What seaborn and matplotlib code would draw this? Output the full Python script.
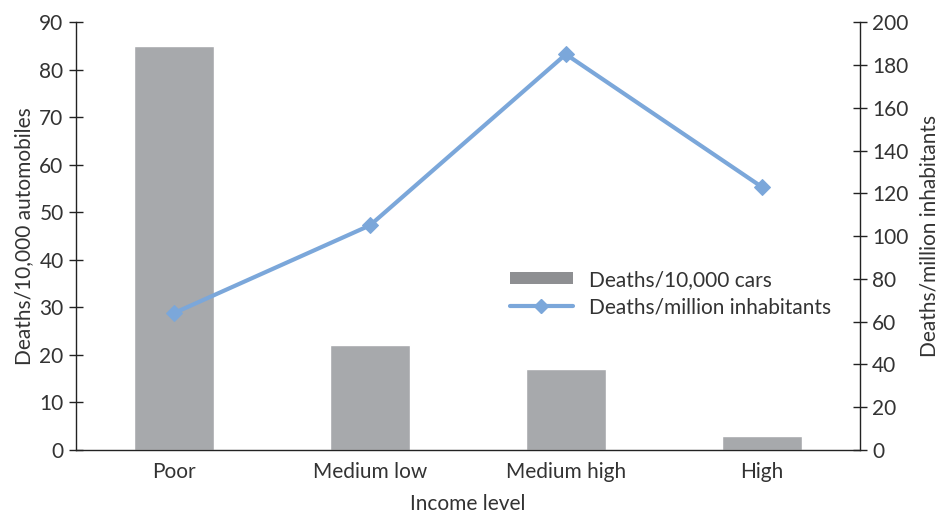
import numpy as np
import pandas as pd
import matplotlib
matplotlib.use("Agg")
import matplotlib.pyplot as plt
import seaborn as sns
from matplotlib.patches import Patch
from matplotlib.lines import Line2D

# data
income_levels = ["Poor", "Medium low", "Medium high", "High"]
deaths_per_10k_cars = [85, 22, 17, 3]
deaths_per_million = [64, 105, 185, 123]

bar_color = "#a7a9ac"
line_color = "#7ba7da"
text_color = "#333333"
fs = 15

sns.set_theme(style="white")
plt.rcParams["font.family"] = ["Lato", "DejaVu Sans"]

fig = plt.figure(figsize=(9.51, 5.16), dpi=100)
ax = fig.add_axes([0.08, 0.128, 0.824, 0.829])

df = pd.DataFrame({"income": income_levels, "cars": deaths_per_10k_cars})
sns.barplot(data=df, x="income", y="cars", color=bar_color, width=0.41,
            saturation=1, ax=ax)
ax.set_xlim(-0.5, 3.5)
ax.set_ylim(0, 90)
ax.set_yticks(np.arange(0, 91, 10))
ax.set_ylabel("Deaths/10,000 automobiles", fontsize=fs, color=text_color, labelpad=4)
ax.set_xlabel("Income level", fontsize=fs, color=text_color, labelpad=8)

# category boundary ticks on the x axis
ax.set_xticks([0.5, 1.5, 2.5])
ax.set_xticklabels([])
ax.set_xticks(range(4), minor=True)
ax.set_xticklabels(income_levels, minor=True)
ax.tick_params(axis="x", which="major", direction="inout", length=8, width=1, color="#222222")
ax.tick_params(axis="x", which="minor", length=0, labelsize=fs, labelcolor=text_color, pad=9)
ax.tick_params(axis="y", direction="inout", length=10, width=1, color="#222222",
               labelsize=fs, labelcolor=text_color, pad=4)

ax2 = ax.twinx()
sns.lineplot(x=np.arange(4), y=deaths_per_million, color=line_color, linewidth=3,
             marker="D", markersize=8, markeredgecolor=line_color, ax=ax2)
ax2.set_ylim(0, 200)
ax2.set_yticks(np.arange(0, 201, 20))
ax2.set_ylabel("Deaths/million inhabitants", fontsize=fs, color=text_color, labelpad=8)
ax2.tick_params(axis="y", direction="inout", length=10, width=1, color="#222222",
                labelsize=fs, labelcolor=text_color, pad=4)

for a in (ax, ax2):
    a.spines["top"].set_visible(False)
    for s in ("left", "right", "bottom"):
        a.spines[s].set_color("#222222")
        a.spines[s].set_linewidth(1)
ax.spines["right"].set_visible(False)
ax2.spines["left"].set_visible(False)
ax2.spines["bottom"].set_visible(False)

handles = [
    Patch(facecolor="#8e8f92", edgecolor="none"),
    Line2D([0], [0], color=line_color, linewidth=3, marker="D", markersize=7),
]
leg = ax2.legend(handles, ["Deaths/10,000 cars", "Deaths/million inhabitants"],
                 loc="upper left", bbox_to_anchor=(0.53, 0.465), frameon=False,
                 fontsize=fs, handlelength=3, handleheight=0.5, labelspacing=0.35)
for t in leg.get_texts():
    t.set_color(text_color)

fig.savefig("out.png", dpi=100)
